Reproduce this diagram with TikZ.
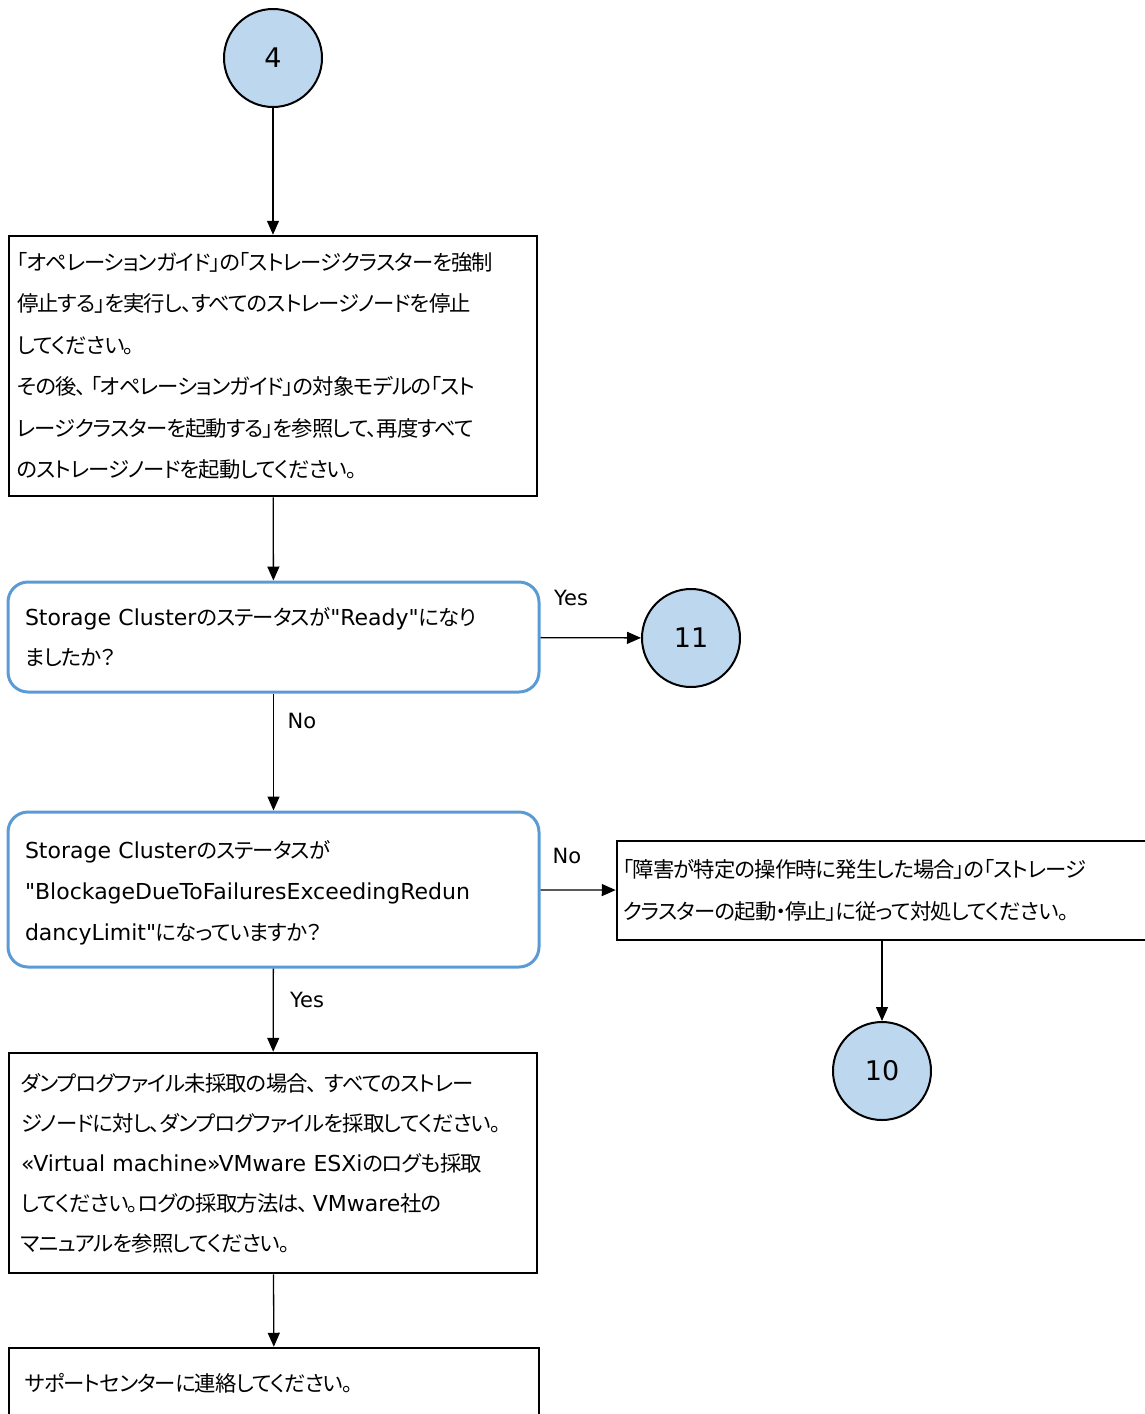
\documentclass[tikz,border=0pt]{standalone}
\usepackage{fontspec}
\setmainfont{DejaVu Sans}[Ligatures=TeXOff]
\newfontfamily\jp{Noto Sans CJK JP}[Scale=0.97, RawFeature=+palt, LetterSpace=-4]
\usepackage{xcolor}
\usepackage{tikz}
\usetikzlibrary{arrows.meta}

\definecolor{connfill}{RGB}{189,215,238}
\definecolor{decline}{RGB}{91,155,213}

\tikzset{
  conn/.style={circle, draw, line width=2pt, fill=connfill, minimum size=98pt, inner sep=0pt, font=\fontsize{27}{30}\selectfont},
  procbox/.style={draw, line width=2.5pt, align=left, inner ysep=0pt, font=\fontsize{22}{41.4}\selectfont},
  decbox/.style={draw=decline, line width=3pt, rounded corners=20pt, align=left, inner xsep=17pt, inner ysep=0pt, text width=497pt, minimum width=531pt, font=\fontsize{22}{40.5}\selectfont},
  flow/.style={line width=1.3pt, -{Triangle[length=14pt, width=12pt]}},
  lbl/.style={font=\fontsize{21}{24}\selectfont}
}

\begin{document}
\begin{tikzpicture}[x=1pt, y=-1pt]
    \useasboundingbox (0,0) rectangle (1145,1414);

    \coordinate (C4pos) at (273, 58);
    \coordinate (B1pos) at (273, 366);
    \coordinate (D1pos) at (273.5, 637);
    \coordinate (C11pos) at (691, 638);
    \coordinate (D2pos) at (273.5, 889.5);
    \coordinate (B3pos) at (884.5, 890.5);
    \coordinate (C10pos) at (882, 1071);
    \coordinate (B4pos) at (273, 1163);
    \coordinate (B5pos) at (274, 1383);

    \node [conn] (C4) at (C4pos) {4};

    \node [procbox, inner xsep=8pt, text width=512pt, minimum height=260pt] (B1) at (B1pos) {%
      {\jp 「オペレーションガイド」の「ストレージクラスターを強制}\\
      {\jp 停止する」を実行し、すべてのストレージノードを停止}\\
      {\jp してください。}\\
      {\jp その後、\kern4pt「オペレーションガイド」の対象モデルの「スト}\\
      {\jp レージクラスターを起動する」を参照して、再度すべて}\\
      {\jp のストレージノードを起動してください。}};

    \node [decbox, minimum height=110pt] (D1) at (D1pos) {%
      Storage Cluster{\jp のステータスが}"Ready"{\jp になり}\\
      {\jp ましたか？}};

    \node [conn] (C11) at (C11pos) {11};

    \node [decbox, minimum height=155pt, font=\fontsize{22}{41}\selectfont] (D2) at (D2pos) {%
      \rule{0pt}{24pt}Storage Cluster{\jp のステータスが}\\
      "BlockageDueToFailuresExceedingRedun\\
      dancyLimit"{\jp になっていますか？}};

    \node [procbox, inner xsep=6pt, text width=523pt, minimum height=99pt] (B3) at (B3pos) {%
      {\jp 「障害が特定の操作時に発生した場合」の「ストレージ}\\
      {\jp クラスターの起動・停止」に従って対処してください。}};

    \node [conn] (C10) at (C10pos) {10};

    \node [procbox, inner xsep=12pt, text width=504pt, minimum height=220pt, font=\fontsize{22}{40}\selectfont] (B4) at (B4pos) {%
      {\jp ダンプログファイル未採取の場合、\ すべてのストレー}\\
      {\jp ジノードに対し、ダンプログファイルを採取してください。}\\
      «Virtual machine»VMware ESXi{\jp のログも採取}\\
      {\jp してください。ログの採取方法は、}\kern4pt VMware{\jp 社の}\\
      {\jp マニュアルを参照してください。}};

    \node [procbox, inner xsep=16pt, text width=498pt, minimum height=70pt] (B5) at (B5pos) {%
      {\jp サポートセンターに連絡してください。}};

    \coordinate (B3out) at (C10 |- B3.south);

    \draw [flow] (C4) to (B1);
    \draw [flow] (B1) to (D1);
    \draw [flow] (D1) to (C11);
    \draw [flow] (D1) to (D2);
    \draw [flow] (D2) to (B3);
    \draw [flow] (B3out) to (C10);
    \draw [flow] (D2) to (B4);
    \draw [flow] (B4) to (B5);

    \node [lbl] (yes1) at (571, 598) {Yes};
    \node [lbl] (no1) at (302, 721) {No};
    \node [lbl] (no2) at (567, 856) {No};
    \node [lbl] (yes2) at (307, 1000) {Yes};
  \end{tikzpicture}
\end{document}
